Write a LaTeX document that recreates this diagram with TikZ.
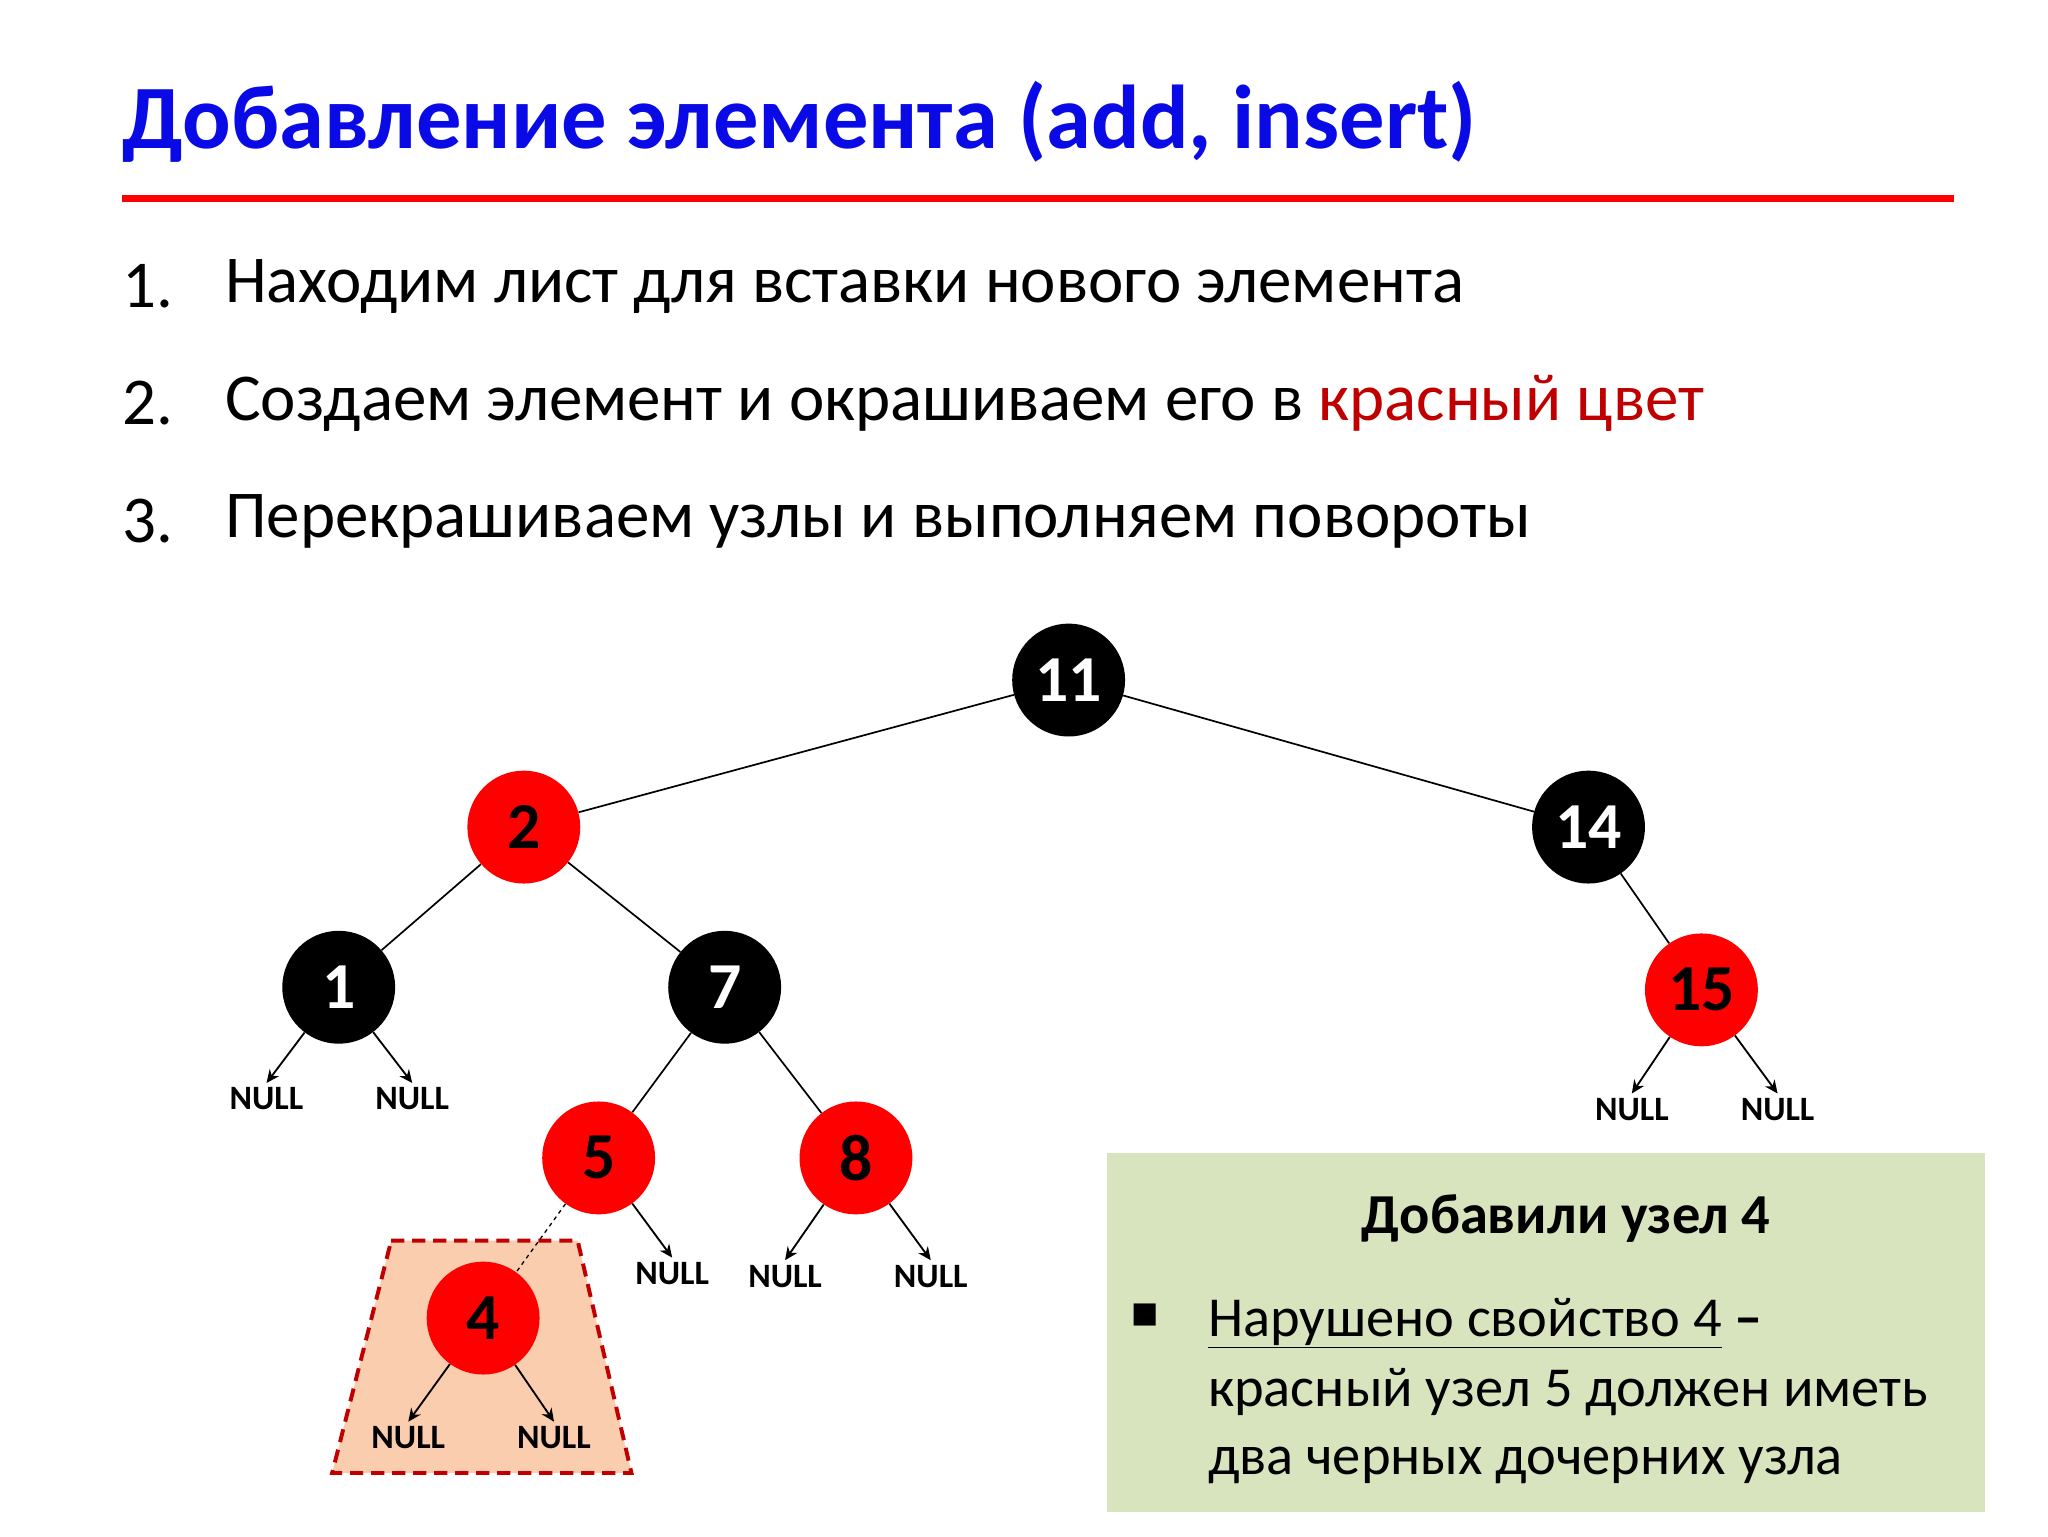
\documentclass[tikz,border=0pt]{standalone}
\usepackage{fontspec}
\setmainfont{Carlito}[Numbers=Lining]
\newfontfamily\symf{DejaVu Sans}
\usetikzlibrary{arrows.meta}
\definecolor{ttl}{RGB}{10,10,230}
\definecolor{rd}{RGB}{255,0,0}
\definecolor{drd}{RGB}{192,0,0}
\definecolor{peach}{RGB}{250,205,175}
\definecolor{grn}{RGB}{216,228,190}
\tikzset{
 rb/.style={circle,minimum size=86pt,inner sep=0pt,font=\fontsize{50}{50}\selectfont\bfseries},
 blk/.style={rb,fill=black,text=white},
 red/.style={rb,fill=rd,text=black},
 nl/.style={font=\fontsize{26}{26}\selectfont\bfseries},
 ed/.style={line width=1.3pt},
 ar/.style={line width=1.4pt,-{Stealth[length=10pt,width=9pt]}},
 li/.style={anchor=west,font=\fontsize{51}{51}\selectfont},
}
\begin{document}
\begin{tikzpicture}[x=1pt,y=-1pt]
\useasboundingbox[fill=white] (0,0) rectangle (1560,1170);
\node[anchor=base west,text=ttl,font=\fontsize{69}{69}\selectfont\bfseries,inner sep=0] (t) at (93,113) {Добавление элемента (add, insert)};
\draw[rd,line width=5pt] (93,151) -- (1488,151);
\node[li] (n1) at (90,218) {1.};
\node[li] (l1) at (168,218) {Находим лист для вставки нового элемента};
\node[li] (n2) at (90,307) {2.};
\node[li] (l2) at (168,307) {Создаем элемент и окрашиваем его в \textcolor{drd}{красный цвет}};
\node[li] (n3) at (90,397) {3.};
\node[li] (l3) at (168,397) {Перекрашиваем узлы и выполняем повороты};
% trapezoid
\draw[drd,line width=3pt,dash pattern=on 10pt off 6pt,fill=peach] (298,945) -- (440,945) -- (481,1122) -- (253,1122) -- cycle;
% green box
\fill[grn] (843,878) rectangle (1512,1152);
\node[font=\fontsize{43}{43}\selectfont\bfseries] (gt) at (1193,928) {Добавили узел 4};
\node[font=\symf\fontsize{22}{22}\selectfont] (bl) at (872,1002) {■};
\node[anchor=base west,font=\fontsize{43}{43}\selectfont,inner sep=0] (g1) at (920,1018) {\underline{Нарушено свойство 4} \textbf{–}};
\node[anchor=base west,font=\fontsize{43}{43}\selectfont,inner sep=0] (g2) at (920,1071) {красный узел 5 должен иметь};
\node[anchor=base west,font=\fontsize{43}{43}\selectfont,inner sep=0] (g3) at (920,1123) {два черных дочерних узла};
% nodes
\node[blk] (a11) at (814,518) {11};
\node[red] (a2) at (399,630) {2};
\node[blk] (a14) at (1210,630) {14};
\node[blk] (a1) at (258,752) {1};
\node[blk] (a7) at (552,752) {7};
\node[red] (a15) at (1296,754) {15};
\node[red] (a5) at (456,882) {5};
\node[red] (a8) at (652,882) {8};
\node[red] (a4) at (368,1004) {4};
\draw[ed] (a11) -- (a2); \draw[ed] (a11) -- (a14);
\draw[ed] (a2) -- (a1); \draw[ed] (a2) -- (a7);
\draw[ed] (a14) -- (a15);
\draw[ed] (a7) -- (a5); \draw[ed] (a7) -- (a8);
\draw[line width=1pt,dashed] (a5) -- (a4);
% nulls
\node[nl] (u1) at (203,837) {NULL}; \node[nl] (u2) at (314,837) {NULL};
\node[nl] (u3) at (1243,845) {NULL}; \node[nl] (u4) at (1354,845) {NULL};
\node[nl] (u5) at (512,970) {NULL};
\node[nl] (u6) at (598,972) {NULL}; \node[nl] (u7) at (709,972) {NULL};
\node[nl] (u8) at (311,1095) {NULL}; \node[nl] (u9) at (422,1095) {NULL};
\draw[ar] (a1) -- (u1.north); \draw[ar] (a1) -- (u2.north);
\draw[ar] (a15) -- (u3.north); \draw[ar] (a15) -- (u4.north);
\draw[ar] (a5) -- (u5.north);
\draw[ar] (a8) -- (u6.north); \draw[ar] (a8) -- (u7.north);
\draw[ar] (a4) -- (u8.north); \draw[ar] (a4) -- (u9.north);
\end{tikzpicture}
\end{document}
